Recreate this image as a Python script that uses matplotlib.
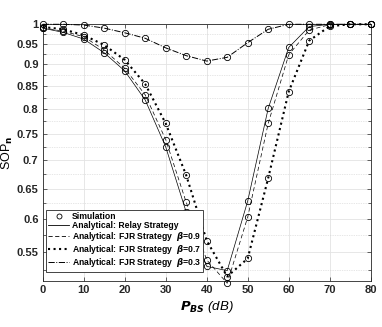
import matplotlib
matplotlib.use('Agg')
import matplotlib.pyplot as plt
from matplotlib.lines import Line2D
from matplotlib.ticker import FixedLocator, FixedFormatter, NullFormatter

#-------------------------------------------------------------------------
# Data
#-------------------------------------------------------------------------

p_bs = [0, 5, 10, 15, 20, 25, 30, 35, 40, 45, 50, 55, 60, 65, 70, 75, 80]

sop_relay = [0.990, 0.979, 0.962, 0.928, 0.885, 0.820, 0.725, 0.611, 0.530,
             0.524, 0.629, 0.802, 0.941, 0.994, 1.000, 1.000, 1.000]
sop_fjr09 = [0.991, 0.982, 0.968, 0.935, 0.891, 0.831, 0.739, 0.627, 0.539,
             0.507, 0.603, 0.771, 0.923, 0.985, 0.999, 1.000, 1.000]
sop_fjr07 = [0.993, 0.987, 0.972, 0.947, 0.911, 0.855, 0.771, 0.673, 0.567,
             0.516, 0.541, 0.668, 0.838, 0.958, 0.995, 1.000, 1.000]
sop_fjr03 = [1.000, 1.000, 0.998, 0.990, 0.978, 0.964, 0.940, 0.921, 0.908,
             0.917, 0.953, 0.987, 1.000, 1.000, 1.000, 1.000, 1.000]

ytick_vals = [0.55, 0.6, 0.65, 0.7, 0.75, 0.8, 0.85, 0.9, 0.95, 1.0]
ytick_labels = ['0.55', '0.6', '0.65', '0.7', '0.75', '0.8', '0.85', '0.9', '0.95', '1']
yminor_vals = [0.525, 0.575, 0.625, 0.675, 0.725, 0.775, 0.825, 0.875, 0.925, 0.975]
xtick_vals = [0, 10, 20, 30, 40, 50, 60, 70, 80]

#-------------------------------------------------------------------------
# Configure matplotlib
#-------------------------------------------------------------------------

plt.rcParams['font.family'] = ['Liberation Sans Narrow', 'Liberation Sans', 'DejaVu Sans']
plt.rcParams['font.size'] = 7.5
plt.rcParams['font.weight'] = 'bold'

fig = plt.figure(figsize=(3.82, 3.27), dpi=100)
ax = fig.add_axes([0.1118, 0.1407, 0.8586, 0.785])

mk = dict(marker='o', markerfacecolor='none', markeredgecolor='black',
          markersize=4.5, markeredgewidth=0.6, clip_on=False, zorder=3)

ax.plot(p_bs, sop_fjr03, color='black', linestyle='-.', linewidth=0.7, **mk)
ax.plot(p_bs, sop_fjr07, color='black', linestyle=':', linewidth=1.5, **mk)
ax.plot(p_bs, sop_fjr09, color='black', linestyle=(0, (6, 4)), linewidth=0.5, **mk)
ax.plot(p_bs, sop_relay, color='black', linestyle='-', linewidth=0.5, **mk)

ax.set_yscale('log')
ax.set_xlim(0, 80)
ax.set_ylim(0.51, 1.0)

ax.yaxis.set_major_locator(FixedLocator(ytick_vals))
ax.yaxis.set_major_formatter(FixedFormatter(ytick_labels))
ax.yaxis.set_minor_locator(FixedLocator(yminor_vals))
ax.yaxis.set_minor_formatter(NullFormatter())
ax.xaxis.set_major_locator(FixedLocator(xtick_vals))

ax.grid(True, which='major', color='#e3e3e3', linewidth=0.6, linestyle='-')
ax.grid(True, which='minor', axis='y', color='#cfcfcf', linewidth=0.5, linestyle=(0, (1, 1.5)))
ax.set_axisbelow(True)

ax.tick_params(which='both', direction='in', top=True, right=True,
               length=3, width=0.5, colors='#262626', labelsize=8, pad=3)
ax.tick_params(which='minor', length=2)
for s in ax.spines.values():
    s.set_linewidth(0.6)
    s.set_color('#262626')

ax.set_xlabel(r'$P_{BS}$ (dB)', fontsize=9.5, style='italic', labelpad=3)
ax.set_ylabel(r'SOP$_{\mathbf{n}}$', fontsize=9, labelpad=1)

#-------------------------------------------------------------------------
# Legend
#-------------------------------------------------------------------------

handles = [
    Line2D([], [], linestyle='none', marker='o', markerfacecolor='none',
           markeredgecolor='black', markersize=3.6, markeredgewidth=0.6),
    Line2D([], [], color='black', linestyle='-', linewidth=0.6),
    Line2D([], [], color='black', linestyle=(0, (5, 3)), linewidth=0.6),
    Line2D([], [], color='black', linestyle=':', linewidth=1.5),
    Line2D([], [], color='black', linestyle='-.', linewidth=0.7),
]
labels = [
    'Simulation',
    'Analytical: Relay Strategy',
    r'Analytical: FJR Strategy  $\mathit{\beta}$=0.9',
    r'Analytical: FJR Strategy  $\mathit{\beta}$=0.7',
    r'Analytical: FJR Strategy  $\mathit{\beta}$=0.3',
]
leg = ax.legend(handles, labels, loc='lower left', bbox_to_anchor=(0.0095, 0.035),
                fontsize=6.2, frameon=True, fancybox=False, framealpha=1,
                edgecolor='#262626', borderpad=0.3, labelspacing=0.0,
                handlelength=2.4, handletextpad=0.3, borderaxespad=0)
leg.get_frame().set_linewidth(0.6)

plt.savefig('out.png', dpi=100)
